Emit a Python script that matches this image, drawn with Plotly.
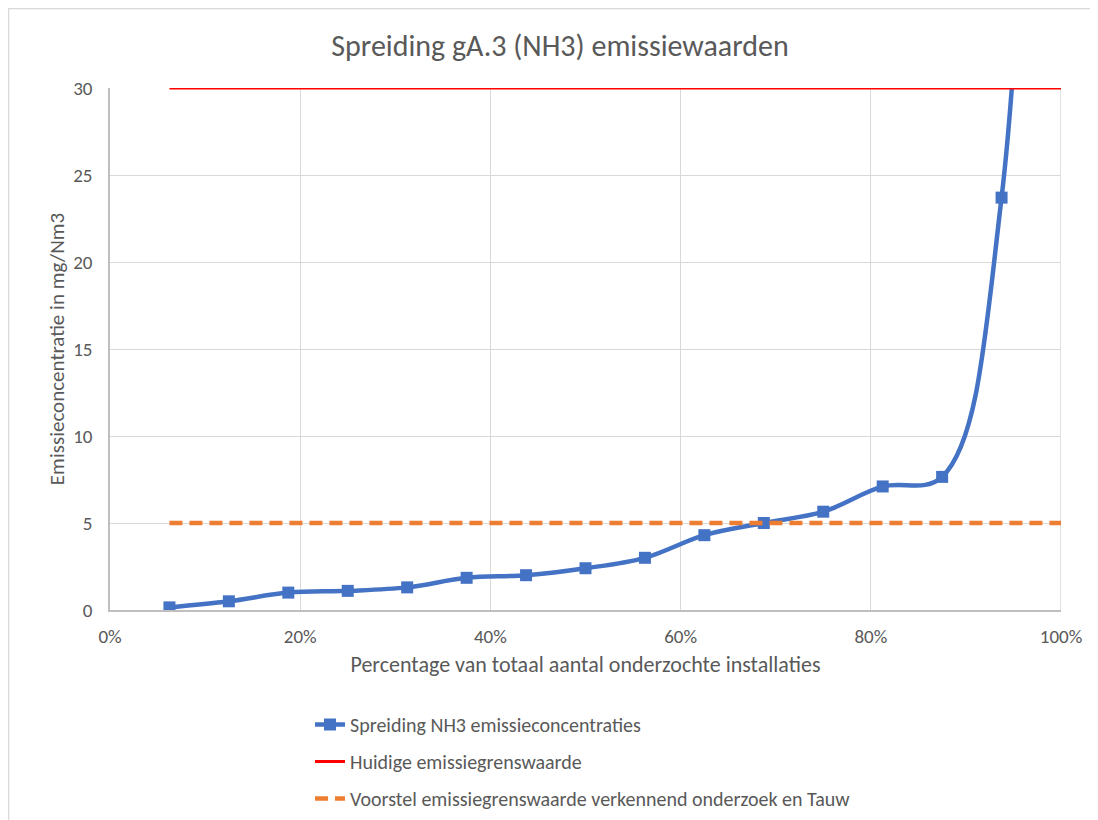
import plotly.graph_objects as go

# Data
x_frac = [i / 16 for i in range(1, 17)]
nh3_values = [0.15, 0.5, 1.0, 1.1, 1.3, 1.85, 2.0, 2.4, 3.0, 4.3, 5.0, 5.65, 7.1, 7.65, 23.7, 150]
current_limit = [30] * 16
proposed_limit = [5] * 16

series_names = [
    "Spreiding NH3 emissieconcentraties",
    "Huidige emissiegrenswaarde",
    "Voorstel emissiegrenswaarde verkennend onderzoek en Tauw",
]

FONT = "Carlito, Calibri, Lato, sans-serif"
GRAY = "#595959"

# page body has an 8px default margin; figure is sized to fit the window
W, H = 1090, 812
L, R, T, B = 102, 37, 80, 210
PW, PH = W - L - R, H - T - B

fig = go.Figure()
fig.add_trace(go.Scatter(
    x=x_frac, y=nh3_values, name=series_names[0], mode="lines+markers",
    line=dict(color="#4472C4", width=4.5, shape="spline", smoothing=1.0),
    marker=dict(symbol="square", size=12, color="#4472C4"),
    legendgroup="a",
))
fig.add_trace(go.Scatter(
    x=x_frac, y=current_limit, name=series_names[1], mode="lines",
    line=dict(color="#FF0000", width=3), legendgroup="b",
))
fig.add_trace(go.Scatter(
    x=x_frac, y=proposed_limit, name=series_names[2], mode="lines",
    line=dict(color="#ED7D31", width=4.5, dash="13px,7px"), legendgroup="c",
))

fig.update_layout(
    width=W, height=H,
    margin=dict(l=L, r=R, t=T, b=B),
    paper_bgcolor="white", plot_bgcolor="white",
    font=dict(family=FONT, color=GRAY, size=19),
    title=dict(text="Spreiding gA.3 (NH3) emissiewaarden", x=552 / W, xanchor="center",
               y=1 - 37 / H, yanchor="middle", font=dict(size=30, color=GRAY)),
    showlegend=True,
    legend=dict(orientation="v", x=(302 - L) / PW, xanchor="left",
                yref="container", y=1 - 697 / H, yanchor="top",
                traceorder="grouped", tracegroupgap=8, font=dict(size=20, color=GRAY),
                bgcolor="rgba(0,0,0,0)"),
    shapes=[dict(type="rect", xref="paper", yref="paper",
                 x0=(0.5 - L) / PW, x1=1.05,
                 y0=-0.45, y1=(T + PH - 0.5) / PH,
                 line=dict(color="#d9d9d9", width=1.5),
                 fillcolor="rgba(0,0,0,0)", layer="below")],
)
fig.update_xaxes(
    range=[0, 1], tickvals=[0, 0.2, 0.4, 0.6, 0.8, 1.0], tickformat=".0%",
    showgrid=True, gridcolor="#d9d9d9", gridwidth=1,
    showline=True, linecolor="#bfbfbf", linewidth=1.5, ticks="",
    tickfont=dict(size=19, color=GRAY), zeroline=False, ticklabelstandoff=8,
    title=dict(text="Percentage van totaal aantal onderzochte installaties",
               font=dict(size=22, color=GRAY), standoff=10),
)
fig.update_yaxes(
    range=[0, 30], tickvals=[0, 5, 10, 15, 20, 25, 30],
    showgrid=True, gridcolor="#d9d9d9", gridwidth=1,
    showline=True, linecolor="#bfbfbf", linewidth=1.5, ticks="",
    tickfont=dict(size=19, color=GRAY), zeroline=False, ticklabelstandoff=12,
    title=dict(text="Emissieconcentratie in mg/Nm3", font=dict(size=21, color=GRAY), standoff=3),
)
# right-edge line of plot area at 100%
fig.add_vline(x=1.0, line=dict(color="#d9d9d9", width=1.5), layer="below")

fig.write_html("out.html")
